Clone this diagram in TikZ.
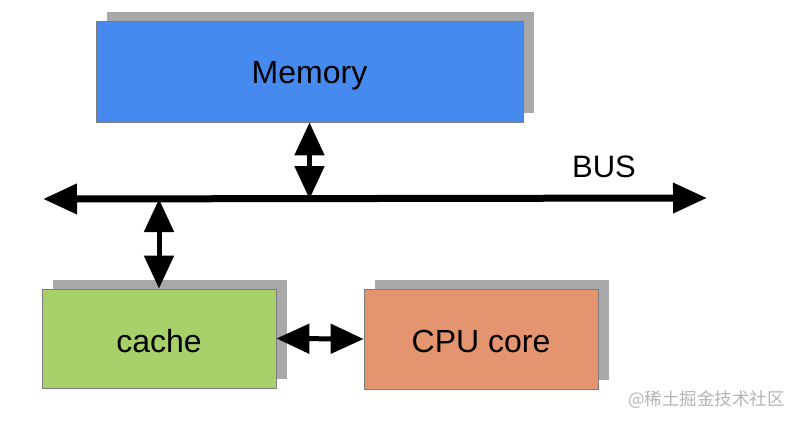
\documentclass[tikz,border=0pt]{standalone}
\usepackage{fontspec}
\setmainfont{Liberation Sans}
\newfontfamily\cjk{Noto Sans CJK SC}
\usetikzlibrary{arrows.meta,shadows}
\definecolor{memblue}{HTML}{4689EF}
\definecolor{cachegreen}{HTML}{A7D06B}
\definecolor{cpuorange}{HTML}{E4946F}
\definecolor{shadowgray}{HTML}{A8A8A8}
\definecolor{edgegray}{HTML}{7C7C7C}
\definecolor{wmgray}{HTML}{B4B4B4}
\begin{document}
\begin{tikzpicture}[x=1pt,y=-1pt,
  box/.style={draw=edgegray,line width=0.8pt,inner sep=0pt,
    font=\fontsize{32}{36}\selectfont,text height=23pt,text depth=0pt,
    general shadow={fill=shadowgray,shadow xshift=11pt,shadow yshift=9pt}},
  biarrow/.style={line width=5pt,{Triangle[length=33pt,width=29pt]}-{Triangle[length=33pt,width=29pt]}},
  busarrow/.style={line width=7pt,{Triangle[length=34pt,width=29pt]}-{Triangle[length=34pt,width=29pt]}}]
\useasboundingbox (0,0) rectangle (799,423);
\node[box,fill=memblue,minimum width=427pt,minimum height=101pt] (mem) at (309.5,71.5) {Memory};
\node[box,fill=cachegreen,minimum width=234pt,minimum height=99pt] (cache) at (159,338.5) {\raisebox{-2pt}{cache}};
\node[box,fill=cpuorange,minimum width=234pt,minimum height=100pt] (cpu) at (481,339) {\raisebox{-2pt}{CPU core}};
\coordinate (busL) at (43,199);
\coordinate (busR) at (707,198);
\draw[busarrow] (busL) -- (busR);
\node[font=\fontsize{31}{36}\selectfont] (buslabel) at (604,167) {BUS};
\draw[biarrow] (mem.south) -- (mem.south |- busL);
\draw[biarrow] (cache.north) -- (cache.north |- busL);
\draw[biarrow] (cache.east) -- (cpu.west);
\node[font=\cjk\fontsize{17.5}{20}\selectfont,text=wmgray,anchor=west,inner sep=0pt] (wm) at (628,400) {@稀土掘金技术社区};
\end{tikzpicture}
\end{document}
